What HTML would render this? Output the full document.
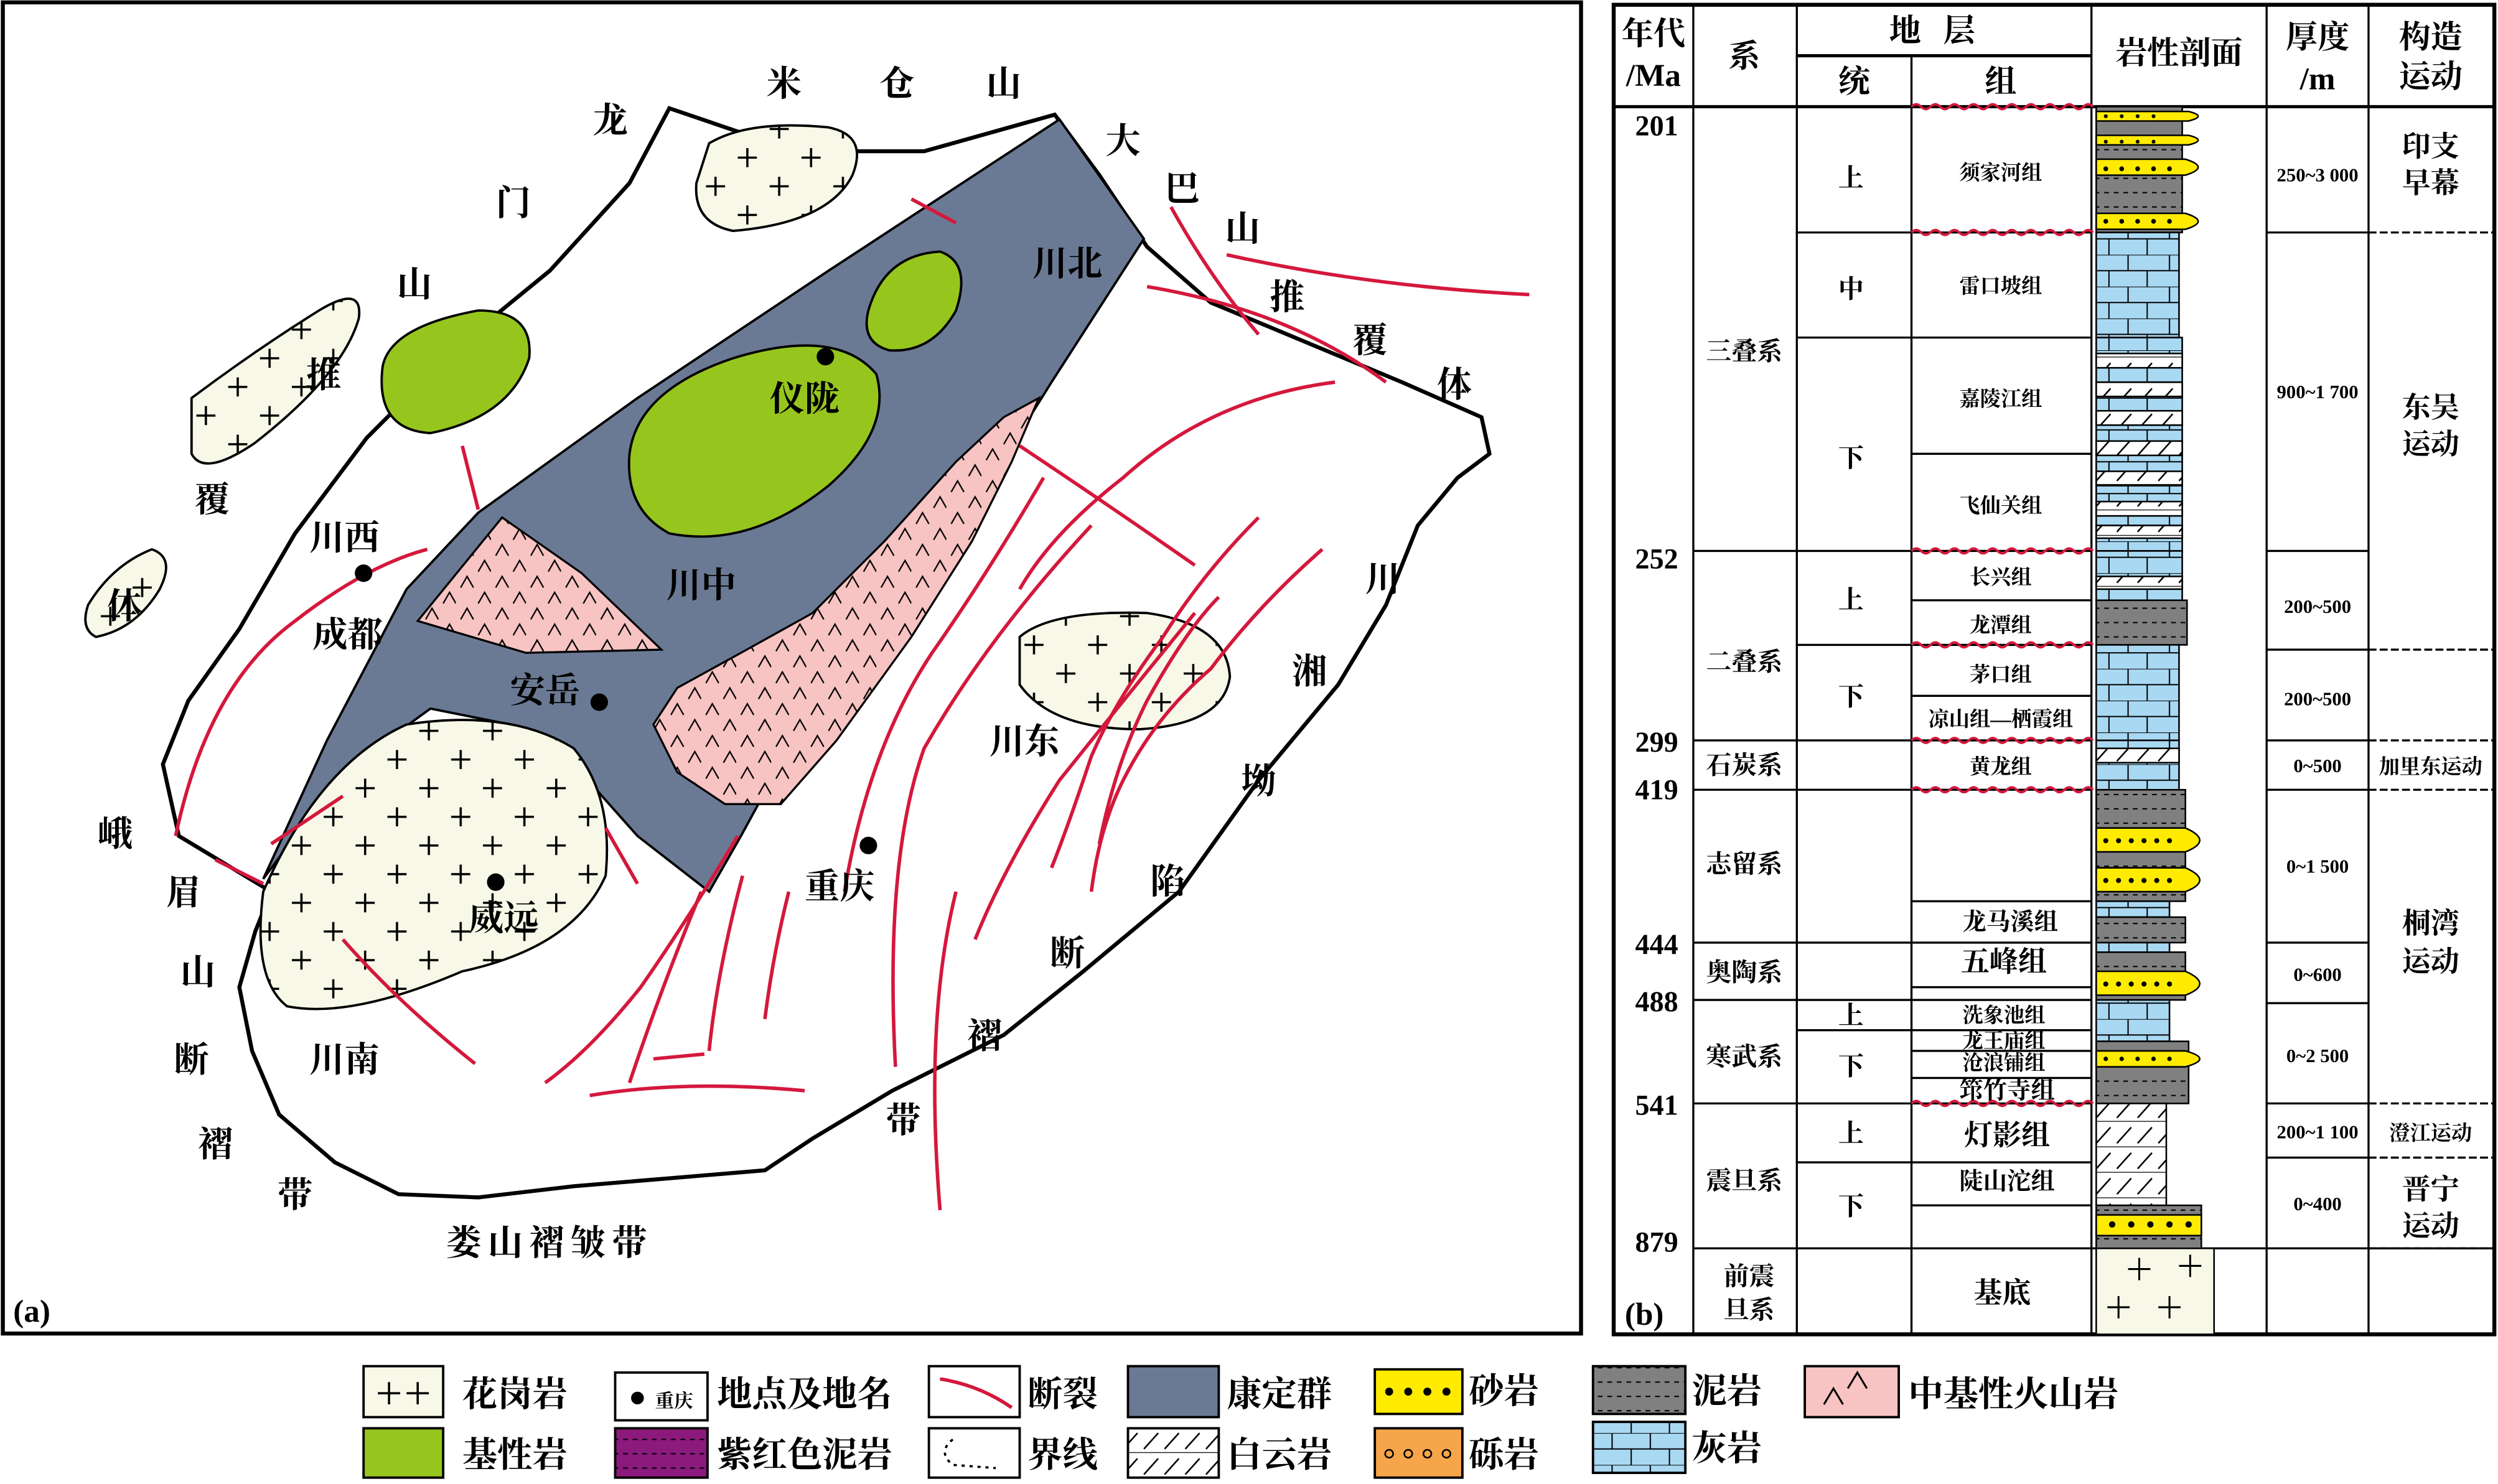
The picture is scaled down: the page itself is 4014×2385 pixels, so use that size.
<!DOCTYPE html>
<html><head><meta charset="utf-8"><style>
html,body{margin:0;padding:0;background:#fff;width:4014px;height:2385px;overflow:hidden}
svg{display:block}
text{font-family:"Liberation Serif","Noto Serif CJK SC","Noto Sans CJK SC",serif;font-weight:bold;fill:#000}
</style></head><body>
<svg width="4014" height="2385" viewBox="0 0 1568 932" xmlns="http://www.w3.org/2000/svg">
<defs>
<pattern id="gr" width="40" height="36" patternUnits="userSpaceOnUse">
<path d="M9 3v12M3 9h12M29 21v12M23 27h12" stroke="#000" stroke-width="1.4"/></pattern>
<pattern id="vo" width="22" height="20" patternUnits="userSpaceOnUse">
<path d="M3 9l4-7 4 7M14 19l4-7 4 7" stroke="#000" stroke-width="0.9" fill="none"/></pattern>
<pattern id="ls" width="50" height="20" patternUnits="userSpaceOnUse">
<rect width="50" height="20" fill="#a9d8f2"/>
<path d="M0 0h50M0 10h50M12 0v10M36 0v10M24 10v10M48 10v10" stroke="#000" stroke-width="0.8"/></pattern>
<pattern id="md" width="12" height="9" patternUnits="userSpaceOnUse">
<rect width="12" height="9" fill="#808080"/><path d="M1 4h3M7 4h3" stroke="#000" stroke-width="0.8"/></pattern>
<pattern id="do" width="26" height="16" patternUnits="userSpaceOnUse">
<rect width="26" height="16" fill="#fff"/><path d="M0 0h26M3 14l9-10M16 14l9-10" stroke="#000" stroke-width="1"/></pattern>
<pattern id="pu" width="12" height="9" patternUnits="userSpaceOnUse">
<rect width="12" height="9" fill="#8b1a7c"/><path d="M1 4h3M7 4h3" stroke="#000" stroke-width="0.8"/></pattern>
</defs>

<!-- MAP -->
<rect x="1.5" y="1.5" width="991" height="836" fill="#fff" stroke="#000" stroke-width="2.5"/>
<path d="M112 525 L102 480 L118 440 L150 395 L185 335 L230 275 L290 215 L345 170 L395 115 L420 68 L470 85 L520 95 L580 95 L662 72 L690 110 L720 155 L760 190 L820 215 L880 240 L930 262 L935 285 L915 300 L890 330 L870 380 L840 430 L790 490 L740 560 L680 610 L630 650 L560 685 L510 715 L480 735 L420 740 L360 745 L300 752 L250 750 L210 730 L175 700 L158 660 L150 620 L160 585 L170 560 Z" fill="#fff" stroke="#000" stroke-width="2.5"/>
<path d="M165 552 L205 465 L255 370 L300 322 L400 250 L520 170 L665 75 L718 150 L660 240 L610 320 L545 400 L495 470 L465 525 L445 560 L400 525 L360 480 L320 455 L270 445 L215 485 Z" fill="#6b7a94" stroke="#000" stroke-width="1.5"/>
<path d="M262 390 L315 325 L365 360 L415 408 L330 410 Z" fill="#f7c3c3" stroke="#000" stroke-width="1.3"/>
<path d="M262 390 L315 325 L365 360 L415 408 L330 410 Z" fill="url(#vo)"/>
<path d="M652 250 L635 290 L610 340 L572 400 L525 465 L490 505 L455 505 L425 485 L410 455 L425 432 L465 410 L510 385 L555 340 L600 290 L630 262 Z" fill="#f7c3c3" stroke="#000" stroke-width="1.3"/>
<path d="M652 250 L635 290 L610 340 L572 400 L525 465 L490 505 L455 505 L425 485 L410 455 L425 432 L465 410 L510 385 L555 340 L600 290 L630 262 Z" fill="url(#vo)"/>
<path d="M240 230 Q245 205 300 195 Q335 195 332 225 Q320 262 270 272 Q235 270 240 230 Z" fill="#96c61e" stroke="#000" stroke-width="1.5"/>
<path d="M545 195 Q555 160 590 158 Q610 165 600 195 Q585 222 558 220 Q540 215 545 195 Z" fill="#96c61e" stroke="#000" stroke-width="1.5"/>
<path d="M395 285 Q400 245 460 225 Q525 205 550 235 Q560 270 520 305 Q470 345 420 335 Q392 320 395 285 Z" fill="#96c61e" stroke="#000" stroke-width="1.5"/>
<g fill="#f8f8e8" stroke="#000" stroke-width="1.5">
<path d="M165 560 Q200 480 255 455 Q320 445 360 470 Q385 500 380 550 Q360 595 290 610 Q220 640 180 632 Q158 615 165 560 Z"/>
<path d="M445 90 Q470 75 520 80 Q545 85 535 110 Q520 140 460 145 Q435 140 437 115 Z"/>
<path d="M120 250 Q160 220 200 195 Q228 178 225 200 Q215 235 160 278 Q128 300 120 285 Z"/>
<path d="M55 380 Q70 355 95 345 Q110 350 100 370 Q85 395 60 400 Q50 395 55 380 Z"/>
<path d="M640 400 Q660 383 720 385 Q770 392 772 425 Q768 455 715 458 Q660 458 640 430 Z"/>
</g>
<g fill="url(#gr)">
<path d="M165 560 Q200 480 255 455 Q320 445 360 470 Q385 500 380 550 Q360 595 290 610 Q220 640 180 632 Q158 615 165 560 Z"/>
<path d="M445 90 Q470 75 520 80 Q545 85 535 110 Q520 140 460 145 Q435 140 437 115 Z"/>
<path d="M120 250 Q160 220 200 195 Q228 178 225 200 Q215 235 160 278 Q128 300 120 285 Z"/>
<path d="M55 380 Q70 355 95 345 Q110 350 100 370 Q85 395 60 400 Q50 395 55 380 Z"/>
<path d="M640 400 Q660 383 720 385 Q770 392 772 425 Q768 455 715 458 Q660 458 640 430 Z"/>
</g>
<g fill="none" stroke="#d4183c" stroke-width="2.2">
<path d="M110 525 Q130 430 185 390 Q230 355 268 345"/>
<path d="M135 540 L165 555"/>
<path d="M170 530 L215 500"/>
<path d="M290 280 L300 320"/>
<path d="M572 125 L600 140"/>
<path d="M735 130 Q760 175 790 210"/>
<path d="M770 160 Q860 180 960 185"/>
<path d="M720 180 Q810 195 870 240"/>
<path d="M838 240 Q760 250 705 300 Q660 335 640 370"/>
<path d="M640 280 Q700 320 750 355"/>
<path d="M655 300 Q620 360 585 410 Q545 470 530 560"/>
<path d="M685 330 Q620 400 580 470 Q555 540 562 670"/>
<path d="M790 325 Q755 360 730 400 Q700 440 685 475 Q670 520 660 545"/>
<path d="M830 345 Q790 380 760 420 Q725 450 705 490 Q690 520 685 560"/>
<path d="M765 375 Q745 395 720 440 Q700 480 690 530"/>
<path d="M750 385 Q705 440 665 490 Q630 545 612 590"/>
<path d="M380 520 L400 555"/>
<path d="M463 525 Q430 580 402 620 Q370 660 342 680"/>
<path d="M440 560 Q415 620 395 680"/>
<path d="M466 550 Q450 610 445 660"/>
<path d="M495 560 Q485 600 480 640"/>
<path d="M215 590 Q250 630 298 668"/>
<path d="M410 665 L442 662"/>
<path d="M370 688 Q430 678 505 685"/>
<path d="M600 560 Q580 640 590 760"/>
</g>
<g fill="#000"><circle cx="228" cy="360" r="5.5"/><circle cx="376" cy="441" r="5.5"/><circle cx="518" cy="224" r="5.5"/><circle cx="545" cy="531" r="5.5"/><circle cx="311" cy="554" r="5.5"/></g>
<g font-size="22" text-anchor="middle">
<text x="383" y="83">龙</text><text x="492" y="60">米</text><text x="563" y="60">仓</text><text x="630" y="60">山</text>
<text x="705" y="96">大</text><text x="742" y="126">巴</text><text x="780" y="151">山</text><text x="808" y="194">推</text><text x="860" y="221">覆</text><text x="913" y="249">体</text>
<text x="322" y="135">门</text><text x="260" y="186">山</text><text x="203" y="243">推</text><text x="133" y="321">覆</text><text x="78" y="388">体</text>
<text x="216" y="345">川西</text><text x="218" y="406">成都</text><text x="670" y="173">川北</text><text x="505" y="258">仪陇</text><text x="440" y="375">川中</text><text x="342" y="441">安岳</text>
<text x="868" y="371">川</text><text x="822" y="429">湘</text><text x="790" y="498">坳</text><text x="733" y="561">陷</text><text x="670" y="606">断</text><text x="618" y="658">褶</text><text x="567" y="711">带</text>
<text x="643" y="473">川东</text><text x="527" y="564">重庆</text><text x="316" y="584">威远</text>
<text x="72" y="531">峨</text><text x="115" y="568">眉</text><text x="124" y="618">山</text><text x="120" y="673">断</text><text x="135" y="726">褶</text><text x="185" y="758">带</text>
<text x="216" y="673">川南</text><text x="345" y="788" letter-spacing="4">娄山褶皱带</text>
</g>
<text x="8" y="830" font-size="20" font-weight="normal">(a)</text>

<!-- TABLE -->
<g stroke="#000" stroke-width="1.3" fill="none">
<rect x="1013" y="3" width="553" height="835" stroke-width="2.5"/>
<path d="M1063 3V838M1128 3V838M1200 35V838M1313 3V838M1423 3V838M1487 3V838"/>
<path d="M1128 35H1313M1013 67H1566" stroke-width="2"/>
<path d="M1063 346H1313M1063 465H1313M1063 496H1313M1063 592H1313M1063 628H1313M1063 693H1313M1063 784H1566"/>
<path d="M1128 146H1313M1128 212H1313M1128 405H1313M1128 647H1313M1128 730H1313"/>
<path d="M1200 285H1313M1200 377H1313M1200 437H1313M1200 566H1313M1200 620H1313M1200 660H1313M1200 677H1313M1200 757H1313"/>
<path d="M1423 146H1487M1423 346H1487M1423 408H1487M1423 465H1487M1423 496H1487M1423 592H1487M1423 630H1487M1423 693H1487M1423 727H1487"/>
</g>
<g stroke="#000" stroke-width="1.3" stroke-dasharray="5,2" fill="none">
<path d="M1487 146H1566M1487 408H1566M1487 465H1566M1487 496H1566M1487 693H1566M1487 727H1566M1487 784H1566"/>
</g>
<g stroke="#d4183c" stroke-width="1.5" fill="none">
<path id="wv" d="M1200 67 q3 -3 6 0 t6 0 t6 0 t6 0 t6 0 t6 0 t6 0 t6 0 t6 0 t6 0 t6 0 t6 0 t6 0 t6 0 t6 0 t6 0 t6 0 t6 0 t6 0"/>
<use href="#wv" y="79"/><use href="#wv" y="279"/><use href="#wv" y="338"/><use href="#wv" y="398"/><use href="#wv" y="429"/><use href="#wv" y="626"/>
</g>
<g stroke="#000" stroke-width="1">
<rect x="1316" y="67" width="54" height="79" fill="url(#md)"/>
<rect x="1316" y="146" width="52" height="66" fill="url(#ls)"/>
<rect x="1316" y="212" width="54" height="134" fill="url(#ls)"/>
<rect x="1316" y="222" width="54" height="9" fill="url(#do)"/><rect x="1316" y="240" width="54" height="9" fill="url(#do)"/><rect x="1316" y="258" width="54" height="9" fill="url(#do)"/><rect x="1316" y="277" width="54" height="9" fill="url(#do)"/><rect x="1316" y="296" width="54" height="9" fill="url(#do)"/><rect x="1316" y="315" width="54" height="9" fill="url(#do)"/><rect x="1316" y="330" width="54" height="8" fill="url(#do)"/>
<rect x="1316" y="346" width="54" height="31" fill="url(#ls)"/><rect x="1316" y="362" width="54" height="8" fill="url(#do)"/>
<rect x="1316" y="377" width="57" height="28" fill="url(#md)"/>
<rect x="1316" y="405" width="52" height="60" fill="url(#ls)"/>
<rect x="1316" y="465" width="52" height="31" fill="url(#ls)"/><rect x="1316" y="470" width="52" height="9" fill="url(#do)"/>
<rect x="1316" y="496" width="56" height="70" fill="url(#md)"/>
<rect x="1316" y="566" width="46" height="10" fill="url(#ls)"/><rect x="1316" y="576" width="56" height="16" fill="url(#md)"/>
<rect x="1316" y="592" width="46" height="6" fill="url(#ls)"/><rect x="1316" y="598" width="56" height="30" fill="url(#md)"/>
<rect x="1316" y="628" width="46" height="26" fill="url(#ls)"/><rect x="1316" y="654" width="58" height="39" fill="url(#md)"/>
<rect x="1316" y="693" width="44" height="64" fill="url(#do)"/>
<rect x="1316" y="757" width="66" height="27" fill="url(#md)"/>
<rect x="1316" y="784" width="74" height="54" fill="#f8f8e8"/>
</g>
<g fill="#ffeb00" stroke="#000" stroke-width="1">
<path d="M1316 70h58q12 3 0 6h-58z"/><path d="M1316 85h58q12 3 0 6h-58z"/><path d="M1316 100h56q16 5 0 10h-56z"/><path d="M1316 134h56q16 5 0 10h-56z"/>
<path d="M1316 520h56q18 8 0 15h-56z"/><path d="M1316 545h56q18 8 0 15h-56z"/><path d="M1316 610h56q18 8 0 15h-56z"/><path d="M1316 660h56q18 5 0 10h-56z"/>
<rect x="1316" y="763" width="66" height="13"/>
</g>
<g fill="#000">
<circle cx="1322" cy="528" r="1.6"/><circle cx="1330" cy="528" r="1.6"/><circle cx="1338" cy="528" r="1.6"/><circle cx="1346" cy="528" r="1.6"/><circle cx="1354" cy="528" r="1.6"/><circle cx="1362" cy="528" r="1.6"/>
<circle cx="1322" cy="553" r="1.6"/><circle cx="1330" cy="553" r="1.6"/><circle cx="1338" cy="553" r="1.6"/><circle cx="1346" cy="553" r="1.6"/><circle cx="1354" cy="553" r="1.6"/><circle cx="1362" cy="553" r="1.6"/>
<circle cx="1322" cy="618" r="1.6"/><circle cx="1330" cy="618" r="1.6"/><circle cx="1338" cy="618" r="1.6"/><circle cx="1346" cy="618" r="1.6"/><circle cx="1354" cy="618" r="1.6"/><circle cx="1362" cy="618" r="1.6"/>
<circle cx="1322" cy="665" r="1.4"/><circle cx="1332" cy="665" r="1.4"/><circle cx="1342" cy="665" r="1.4"/><circle cx="1352" cy="665" r="1.4"/><circle cx="1362" cy="665" r="1.4"/>
<circle cx="1326" cy="769" r="2"/><circle cx="1338" cy="769" r="2"/><circle cx="1350" cy="769" r="2"/><circle cx="1362" cy="769" r="2"/><circle cx="1374" cy="769" r="2"/>
<circle cx="1322" cy="106" r="1.5"/><circle cx="1332" cy="106" r="1.5"/><circle cx="1342" cy="106" r="1.5"/><circle cx="1352" cy="106" r="1.5"/><circle cx="1362" cy="106" r="1.5"/>
<circle cx="1322" cy="139" r="1.5"/><circle cx="1332" cy="139" r="1.5"/><circle cx="1342" cy="139" r="1.5"/><circle cx="1352" cy="139" r="1.5"/><circle cx="1362" cy="139" r="1.5"/>
<circle cx="1322" cy="89" r="1.2"/><circle cx="1332" cy="89" r="1.2"/><circle cx="1342" cy="89" r="1.2"/><circle cx="1352" cy="89" r="1.2"/>
<circle cx="1322" cy="73" r="1.2"/><circle cx="1332" cy="73" r="1.2"/><circle cx="1342" cy="73" r="1.2"/><circle cx="1352" cy="73" r="1.2"/>
</g>
<g stroke="#000" stroke-width="1.2"><path d="M1343 790v14M1336 797h14M1375 788v14M1368 795h14M1330 814v14M1323 821h14M1362 814v14M1355 821h14"/></g>

<g text-anchor="middle" font-size="20">
<text x="1038" y="28">年代</text><text x="1038" y="54" font-weight="normal">/Ma</text>
<text x="1095" y="42">系</text><text x="1220" y="26" letter-spacing="14">地层</text>
<text x="1164" y="58">统</text><text x="1256" y="58">组</text>
<text x="1368" y="40">岩性剖面</text>
<text x="1455" y="30">厚度</text><text x="1455" y="56" font-weight="normal">/m</text>
<text x="1526" y="30">构造</text><text x="1526" y="55">运动</text>
</g>
<g text-anchor="middle" font-size="18" font-weight="normal">
<text x="1040" y="85">201</text><text x="1040" y="357">252</text><text x="1040" y="472">299</text><text x="1040" y="502">419</text>
<text x="1040" y="599">444</text><text x="1040" y="635">488</text><text x="1040" y="700">541</text><text x="1040" y="786">879</text>
</g>
<text x="1020" y="832" font-size="20" font-weight="normal">(b)</text>
<g text-anchor="middle" font-size="16">
<text x="1095" y="226">三叠系</text><text x="1095" y="421">二叠系</text><text x="1095" y="486">石炭系</text><text x="1095" y="548">志留系</text>
<text x="1095" y="616">奥陶系</text><text x="1095" y="669">寒武系</text><text x="1095" y="747">震旦系</text><text x="1098" y="807">前震</text><text x="1098" y="828">旦系</text>
<text x="1162" y="117">上</text><text x="1162" y="187">中</text><text x="1162" y="293">下</text><text x="1162" y="382">上</text><text x="1162" y="443">下</text>
<text x="1162" y="643">上</text><text x="1162" y="675">下</text><text x="1162" y="717">上</text><text x="1162" y="763">下</text>
</g>
<g text-anchor="middle" font-size="13">
<text x="1256" y="113">须家河组</text><text x="1256" y="184">雷口坡组</text><text x="1256" y="255">嘉陵江组</text><text x="1256" y="322">飞仙关组</text>
<text x="1256" y="367">长兴组</text><text x="1256" y="397">龙潭组</text><text x="1256" y="428">茅口组</text><text x="1256" y="456">凉山组—栖霞组</text><text x="1256" y="486">黄龙组</text>
</g>
<g text-anchor="middle" font-size="15">
<text x="1262" y="584">龙马溪组</text><text x="1258" y="610" font-size="18">五峰组</text>
<text x="1258" y="642" font-size="13">洗象池组</text><text x="1258" y="658" font-size="13">龙王庙组</text><text x="1258" y="672" font-size="13">沧浪铺组</text><text x="1260" y="690">筇竹寺组</text>
<text x="1260" y="719" font-size="18">灯影组</text><text x="1260" y="747">陡山沱组</text><text x="1257" y="818" font-size="18">基底</text>
</g>
<g text-anchor="middle" font-size="12" font-weight="normal">
<text x="1455" y="114">250~3 000</text><text x="1455" y="250">900~1 700</text><text x="1455" y="385">200~500</text><text x="1455" y="443">200~500</text>
<text x="1455" y="485">0~500</text><text x="1455" y="548">0~1 500</text><text x="1455" y="616">0~600</text><text x="1455" y="667">0~2 500</text>
<text x="1455" y="715">200~1 100</text><text x="1455" y="760">0~400</text>
</g>
<g text-anchor="middle" font-size="18">
<text x="1526" y="98">印支</text><text x="1526" y="121">早幕</text><text x="1526" y="262">东吴</text><text x="1526" y="285">运动</text>
<text x="1526" y="586">桐湾</text><text x="1526" y="610">运动</text><text x="1526" y="753">晋宁</text><text x="1526" y="776">运动</text>
<text x="1526" y="486" font-size="13">加里东运动</text><text x="1526" y="716" font-size="13">澄江运动</text>
</g>

<!-- LEGEND -->
<g stroke="#000" stroke-width="1.5">
<rect x="228" y="858" width="50" height="32" fill="#f8f8e8"/>
<rect x="386" y="862" width="58" height="30" fill="#fff"/>
<rect x="583" y="858" width="57" height="32" fill="#fff"/>
<rect x="708" y="858" width="57" height="32" fill="#6b7a94"/>
<rect x="863" y="860" width="55" height="28" fill="#ffeb00"/>
<rect x="1000" y="858" width="58" height="30" fill="url(#md)"/>
<rect x="1133" y="858" width="59" height="32" fill="#f7c3c3"/>
<rect x="228" y="897" width="50" height="31" fill="#96c61e"/>
<rect x="386" y="897" width="58" height="31" fill="url(#pu)"/>
<rect x="583" y="897" width="57" height="31" fill="#fff"/>
<rect x="708" y="897" width="57" height="31" fill="url(#do)"/>
<rect x="863" y="897" width="55" height="31" fill="#f6a54a"/>
<rect x="1000" y="893" width="58" height="32" fill="url(#ls)"/>
</g>
<path d="M244 868v14M237 875h14M262 868v14M255 875h14" stroke="#000" stroke-width="1.4"/>
<circle cx="400" cy="878" r="4" fill="#000"/><text x="423" y="884" font-size="12" text-anchor="middle">重庆</text>
<path d="M590 866 Q615 870 635 884" stroke="#d4183c" stroke-width="2.2" fill="none"/>
<g fill="#000"><circle cx="872" cy="874" r="2.5"/><circle cx="884" cy="874" r="2.5"/><circle cx="896" cy="874" r="2.5"/><circle cx="908" cy="874" r="2.5"/></g>
<g fill="none" stroke="#000"><circle cx="872" cy="913" r="2.5"/><circle cx="884" cy="913" r="2.5"/><circle cx="896" cy="913" r="2.5"/><circle cx="908" cy="913" r="2.5"/></g>
<path d="M1145 882l6-10 6 10M1160 872l6-10 6 10" stroke="#000" fill="none" stroke-width="1.2"/>
<path d="M598 904 Q588 912 598 920 L625 922" stroke="#000" stroke-dasharray="2,3" fill="none" stroke-width="1.4"/>
<g font-size="22">
<text x="290" y="883">花岗岩</text><text x="450" y="883">地点及地名</text><text x="645" y="883">断裂</text><text x="770" y="883">康定群</text>
<text x="922" y="881">砂岩</text><text x="1062" y="881">泥岩</text><text x="1198" y="883">中基性火山岩</text>
<text x="290" y="921">基性岩</text><text x="450" y="921">紫红色泥岩</text><text x="645" y="921">界线</text><text x="770" y="921">白云岩</text>
<text x="922" y="921">砾岩</text><text x="1062" y="917">灰岩</text>
</g>
</svg>
</body></html>
